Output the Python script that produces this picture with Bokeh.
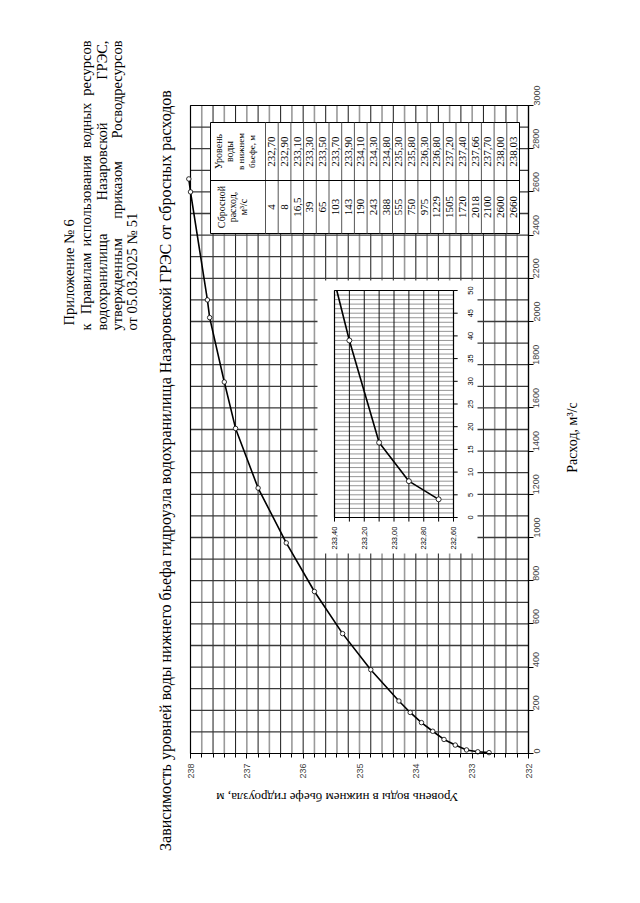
import math
import numpy as np
from bokeh.plotting import figure
from bokeh.models import Range1d, SingleIntervalTicker, LinearAxis
from bokeh.embed import file_html
from bokeh.resources import INLINE
from bokeh.core.properties import value

# ---------------- data ----------------
discharge = [4, 8, 16.5, 39, 65, 103, 143, 190, 243, 388, 555, 750, 975,
             1229, 1505, 1720, 2018, 2100, 2600, 2660]
level = [232.70, 232.90, 233.10, 233.30, 233.50, 233.70, 233.90, 234.10,
         234.30, 234.80, 235.30, 235.80, 236.30, 236.80, 237.20, 237.40,
         237.66, 237.70, 238.00, 238.03]

level_range = (238, 232)
discharge_range = (0, 3000)
inset_level_range = (233.4, 232.6)
inset_discharge_range = (0, 50)
inset_level_ticks = [233.4, 233.2, 233.0, 232.8, 232.6]
inset_discharge_ticks = [0, 5, 10, 15, 20, 25, 30, 35, 40, 45, 50]

title = ("Зависимость уровней воды нижнего бьефа гидроузла водохранилища "
         "Назаровской ГРЭС от сбросных расходов")
x_title = "Уровень воды в нижнем бьефе гидроузла, м"
y_title = "Расход, м³/с"
header_first = "Приложение № 6"
header_justified = ["к Правилам использования водных ресурсов",
                    "водохранилища Назаровской ГРЭС,",
                    "утвержденным приказом Росводресурсов"]
header_last = "от 05.03.2025 № 51"
head_q = ["Сбросной", "расход,", "м³/с"]
head_lvl = ["Уровень", "воды", "в нижнем", "бьефе, м"]

# ---------------- layout (page pixels) ----------------
W, H = 632, 895
FX0, FX1 = 190, 528      # plot area left/right (238 .. 232)
FY0, FY1 = 105, 753      # plot area top/bottom (3000 .. 0)
SERIF = "Liberation Serif"
SANS = "Liberation Sans"
ROT = math.pi / 2
LMAX, LMIN = max(level_range), min(level_range)
QMIN, QMAX = discharge_range


def lv(px):
    return level_range[0] + (px - FX0) * (level_range[1] - level_range[0]) / (FX1 - FX0)


def qd(py):
    return QMIN + (FY1 - py) * (QMAX - QMIN) / (FY1 - FY0)


p = figure(width=W, height=H,
           x_range=Range1d(lv(0), lv(W)), y_range=Range1d(qd(H), qd(0)),
           x_axis_location=None, y_axis_location=None,
           output_backend="svg", toolbar_location=None,
           min_border_left=0, min_border_right=0, min_border_top=0, min_border_bottom=0)
p.background_fill_color = "white"
p.border_fill_color = "white"
p.outline_line_color = None
p.xgrid.visible = False
p.ygrid.visible = False

# ---------------- axes at the plot-area edges ----------------
xa = LinearAxis(ticker=SingleIntervalTicker(interval=1, num_minor_ticks=5),
                fixed_location=QMIN, bounds=(LMIN, LMAX))
xa.major_label_orientation = ROT
xa.major_tick_in, xa.major_tick_out = 0, 5
xa.minor_tick_in, xa.minor_tick_out = 0, 4
xa.major_label_standoff = 5
xa.major_label_text_font = SANS
xa.major_label_text_font_size = "9px"
xa.axis_line_color = "black"
xa.axis_line_width = 1.2
p.add_layout(xa, "below")

ya = LinearAxis(ticker=SingleIntervalTicker(interval=200),
                fixed_location=LMIN, bounds=(QMIN, QMAX))
ya.major_label_orientation = ROT
ya.major_tick_in, ya.major_tick_out = 0, 5
ya.minor_tick_in, ya.minor_tick_out = 0, 0
ya.major_label_standoff = 3
ya.major_label_text_font = SANS
ya.major_label_text_font_size = "9px"
ya.axis_line_color = "black"
ya.axis_line_width = 1.2
p.add_layout(ya, "right")

# ---------------- grid ----------------
gl = [round(v, 2) for v in np.arange(LMIN + 0.2, LMAX - 0.1, 0.2)]
gl_black = [v for v in gl if round((LMAX - v) / 0.2) % 2 == 0]
gl_gray = [v for v in gl if round((LMAX - v) / 0.2) % 2 == 1]
p.segment(x0=gl_gray, x1=gl_gray, y0=QMIN, y1=QMAX, line_color="#9a9a9a", line_width=1.6)
p.segment(x0=gl_black, x1=gl_black, y0=QMIN, y1=QMAX, line_color="#1a1a1a", line_width=1.0)
gq = list(range(QMIN + 100, QMAX, 100))
p.segment(x0=LMAX, x1=LMIN, y0=gq, y1=gq, line_color="#3a3a3a", line_width=1.3)
p.quad(left=LMAX, right=LMIN, bottom=QMIN, top=QMAX, fill_color=None,
       line_color="black", line_width=1.2)


def page_text(text, px, py, size, align="center", angle=ROT, font=SERIF):
    p.text(x=[lv(px)], y=[qd(py)], text=[text], angle=angle,
           text_align=align, text_baseline="middle",
           text_font=value(font), text_font_size=f"{size}px", text_color="black")


# rough Times-like advance widths (em) to justify header lines
_W = {" ": .25, ",": .25, ".": .25, "№": .95, "м": .62, "ж": .7, "ш": .72, "щ": .72,
      "ю": .7, "ы": .65, "ф": .63, "з": .4, "г": .4, "а": .44, "е": .44, "с": .44,
      "т": .44, "ь": .44, "э": .44, "в": .47, "к": .48, "я": .48}


def est_width(s, size):
    w = 0.0
    for ch in s:
        if ch in _W:
            w += _W[ch]
        elif ch.isupper():
            w += 0.7
        else:
            w += 0.5
    return w * size * 0.94


def justify(line, px, y_start, y_end, size):
    words = line.split()
    widths = [est_width(w, size) for w in words]
    gap = ((y_start - y_end) - sum(widths)) / (len(words) - 1)
    y = y_start
    for i, (w, ww) in enumerate(zip(words, widths)):
        if i == 0:
            page_text(w, px, y_start, size, align="left")
        elif i == len(words) - 1:
            page_text(w, px, y_end, size, align="right")
        else:
            page_text(w, px, y - ww / 2, size)
        y -= ww + gap


HS = 14.5
page_text(header_first, 68, 325, HS, align="left")
for line, hx in zip(header_justified, [85, 101, 116]):
    justify(line, hx, 330, 40, HS)
page_text(header_last, 131, 330, HS, align="left")

page_text(title, 165, 470, 16)
page_text(y_title, 572, 437, 14)
page_text(x_title, 337, 797, 13, angle=math.pi)

# ---------------- table ----------------
TX0, TX1 = 210, 519
TY0, TYM, TY1 = 122, 180, 233
HX = 265
n = len(discharge)
row_w = (TX1 - HX) / n
p.quad(left=lv(TX0), right=lv(TX1), top=qd(TY0), bottom=qd(TY1),
       fill_color="white", line_color="black", line_width=1)
sep_x = [lv(HX + row_w * k) for k in range(n)]
p.segment(x0=sep_x, y0=qd(TY0), x1=sep_x, y1=qd(TY1), line_color="#555555", line_width=1)
p.segment(x0=lv(TX0), y0=qd(TYM), x1=lv(TX1), y1=qd(TYM), line_color="black", line_width=1)
row_x = [lv(HX + row_w * (i + 0.5)) for i in range(n)]
p.text(x=row_x, y=qd((TY0 + TYM) / 2), text=[f"{v:.2f}".replace(".", ",") for v in level],
       angle=ROT, text_align="center", text_baseline="middle",
       text_font=value(SERIF), text_font_size="11px", text_color="black")
p.text(x=row_x, y=qd((TYM + TY1) / 2), text=[f"{v:g}".replace(".", ",") for v in discharge],
       angle=ROT, text_align="center", text_baseline="middle",
       text_font=value(SERIF), text_font_size="11px", text_color="black")
for t, hx, sz in zip(head_lvl, [218, 229, 240, 251], [10, 10, 9, 9]):
    page_text(t, hx, (TY0 + TYM) / 2, sz)
for t, hx in zip(head_q, [221, 232, 243]):
    page_text(t, hx, (TYM + TY1) / 2, 10)

# ---------------- inset ----------------
BX0, BY0, BX1, BY1 = 317, 280, 477, 553
p.quad(left=lv(BX0), right=lv(BX1), top=qd(BY0), bottom=qd(BY1),
       fill_color="white", line_color=None)
IX0, IX1 = 334, 453
IY0, IY1 = 517, 290
sub = p.subplot(x_source=Range1d(*inset_level_range), y_source=Range1d(*inset_discharge_range),
                x_target=Range1d(lv(IX0), lv(IX1)), y_target=Range1d(qd(IY0), qd(IY1)))
ilo, ihi = min(inset_level_range), max(inset_level_range)
qlo, qhi = inset_discharge_range
hq = list(range(qlo + 1, qhi))
sub.segment(x0=ilo, x1=ihi, y0=hq, y1=hq, line_color="#7a7a7a", line_width=0.8)
vl = [round(v, 2) for v in np.arange(ilo + 0.1, ihi - 0.05, 0.1)]
sub.segment(x0=vl, x1=vl, y0=qlo, y1=qhi, line_color="#111111", line_width=1)
sub.quad(left=inset_level_range[0], right=inset_level_range[1], bottom=qlo, top=qhi,
         fill_color=None, line_color="black", line_width=1.2)
tl = [round(v, 2) for v in np.arange(ilo, ihi + 0.05, 0.1)]
sub.segment(x0=tl, x1=tl, y0=qlo, y1=qlo - 0.9, line_color="black", line_width=1)
sub.segment(x0=ilo, x1=ilo - 0.028, y0=inset_discharge_ticks, y1=inset_discharge_ticks,
            line_color="black", line_width=1)
sub.text(x=inset_level_ticks, y=qlo - 2.0,
         text=[f"{v:.2f}".replace(".", ",") for v in inset_level_ticks],
         angle=ROT, text_align="right", text_baseline="middle",
         text_font=value(SANS), text_font_size="7.5px", text_color="black")
sub.text(x=ilo - 0.114, y=inset_discharge_ticks, text=[str(v) for v in inset_discharge_ticks],
         angle=ROT, text_align="center", text_baseline="middle",
         text_font=value(SANS), text_font_size="7.5px", text_color="black")


def clip_polyline(xs, ys, xmin, xmax, ymin, ymax):
    """Clip a polyline to a box for drawing (Liang-Barsky on each segment)."""
    ox, oy = [], []
    for i in range(len(xs) - 1):
        x0, y0, x1, y1 = xs[i], ys[i], xs[i + 1], ys[i + 1]
        dx, dy = x1 - x0, y1 - y0
        t0, t1, ok = 0.0, 1.0, True
        for pp, qq in ((-dx, x0 - xmin), (dx, xmax - x0), (-dy, y0 - ymin), (dy, ymax - y0)):
            if pp == 0:
                if qq < 0:
                    ok = False
                continue
            r = qq / pp
            if pp < 0:
                t0 = max(t0, r)
            else:
                t1 = min(t1, r)
        if ok and t0 <= t1:
            ox += [x0 + t0 * dx, x0 + t1 * dx, float("nan")]
            oy += [y0 + t0 * dy, y0 + t1 * dy, float("nan")]
    return ox, oy


cx, cy = clip_polyline(level, discharge, ilo, ihi, qlo, qhi)
sub.line(cx, cy, line_color="black", line_width=1.6)
ins = [(l, q) for l, q in zip(level, discharge) if ilo <= l <= ihi and qlo <= q <= qhi]
sub.scatter([a for a, b in ins], [b for a, b in ins], marker="circle", size=5,
            fill_color="white", line_color="black", line_width=0.8)

# ---------------- main curve ----------------
p.line(level, discharge, line_color="black", line_width=1.6)
p.scatter(level, discharge, marker="circle", size=4.5, fill_color="white",
          line_color="black", line_width=0.8)

open("out.html", "w").write(file_html(p, INLINE))
